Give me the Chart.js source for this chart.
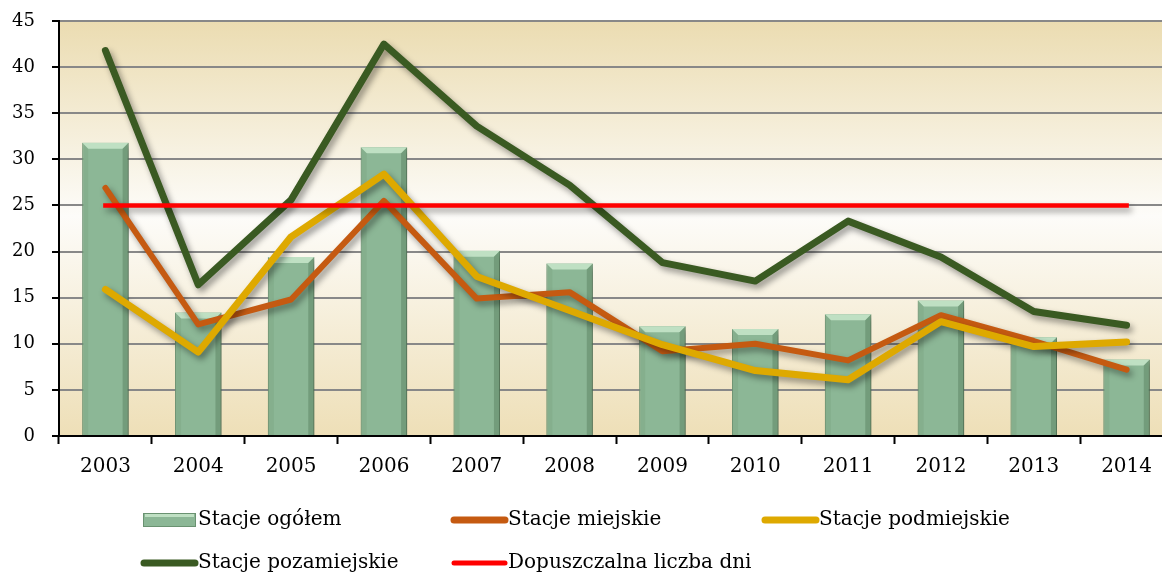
<!DOCTYPE html>
<html>
<head>
<meta charset="utf-8">
<script src="https://cdn.jsdelivr.net/npm/chart.js@4/dist/chart.umd.min.js"></script>
<style>
body { margin: 0; background: #fff; overflow: hidden; }
</style>
</head>
<body>
<canvas id="chart" width="1174" height="575"></canvas>
<script>
// dane
var years = ['2003','2004','2005','2006','2007','2008','2009','2010','2011','2012','2013','2014']
var ogolem = [31.8, 13.4, 19.4, 31.3, 20.1, 18.7, 11.9, 11.6, 13.2, 14.7, 10.7, 8.3]
var miejskie = [26.9, 12.1, 14.8, 25.5, 14.9, 15.6, 9.2, 10.0, 8.2, 13.1, 10.3, 7.2]
var podmiejskie = [15.9, 9.1, 21.6, 28.4, 17.3, 13.6, 9.9, 7.1, 6.1, 12.4, 9.7, 10.2]
var pozamiejskie = [41.8, 16.4, 25.6, 42.5, 33.6, 27.2, 18.8, 16.8, 23.3, 19.4, 13.5, 12.0]
var dopuszczalna = [25, 25, 25, 25, 25, 25, 25, 25, 25, 25, 25, 25]
var yTicks = [0, 5, 10, 15, 20, 25, 30, 35, 40, 45]

// tło obszaru wykresu
const tloPlugin = {
    id: 'tlo',
    beforeDraw(chart){
        const a = chart.chartArea
        const ctx = chart.ctx
        const g = ctx.createLinearGradient(0, a.top, 0, a.bottom)
        g.addColorStop(0, '#ebdcb1')
        g.addColorStop(0.47, '#fdfcf9')
        g.addColorStop(1, '#eedfb7')
        ctx.save()
        ctx.fillStyle = g
        ctx.fillRect(a.left, a.top, a.right - a.left, a.bottom - a.top)
        ctx.restore()
    }
}

// cienie + fazowanie słupków
const cienPlugin = {
    id: 'cien',
    beforeDatasetDraw(chart, args){
        const ctx = chart.ctx
        ctx.save()
        ctx.shadowColor = 'rgba(0,0,0,0.4)'
        ctx.shadowBlur = 6
        ctx.shadowOffsetX = 3
        ctx.shadowOffsetY = 4
    },
    afterDatasetDraw(chart, args){
        const ctx = chart.ctx
        ctx.restore()
        if(args.meta.type != 'bar') return
        args.meta.data.forEach(function(bar){
            const w = bar.width, l = bar.x - w / 2, r = bar.x + w / 2, t = bar.y, b = bar.base
            const s = 6
            ctx.save()
            ctx.fillStyle = '#bfe0c3'
            ctx.beginPath()
            ctx.moveTo(l, t); ctx.lineTo(r, t); ctx.lineTo(r - s, t + s); ctx.lineTo(l + s, t + s)
            ctx.closePath(); ctx.fill()
            ctx.fillStyle = 'rgba(90,130,95,0.5)'
            ctx.beginPath()
            ctx.moveTo(r, t); ctx.lineTo(r, b); ctx.lineTo(r - s, b); ctx.lineTo(r - s, t + s)
            ctx.closePath(); ctx.fill()
            ctx.fillStyle = 'rgba(120,160,125,0.35)'
            ctx.beginPath()
            ctx.moveTo(l, t); ctx.lineTo(l, b); ctx.lineTo(l + s, b); ctx.lineTo(l + s, t + s)
            ctx.closePath(); ctx.fill()
            ctx.restore()
        })
    }
}

// legenda w układzie kolumn
const legendaPlugin = {
    id: 'legenda',
    afterDraw(chart){
        const ctx = chart.ctx
        const cols = [141, 451, 762]
        const rows = [520, 563]
        ctx.save()
        chart.data.datasets.forEach(function(ds, i){
            const x = cols[i % 3], y = rows[Math.floor(i / 3)]
            if(ds.type == 'bar'){
                ctx.fillStyle = ds.backgroundColor
                ctx.fillRect(x + 2, y - 7, 53, 14)
                ctx.fillStyle = '#bfe0c3'
                ctx.fillRect(x + 4, y - 7, 49, 4)
                ctx.strokeStyle = ds.borderColor
                ctx.lineWidth = 1
                ctx.strokeRect(x + 2.5, y - 6.5, 52, 13)
            }
            else{
                ctx.strokeStyle = ds.borderColor
                ctx.lineWidth = ds.label == 'Dopuszczalna liczba dni' ? 5 : 7
                ctx.lineCap = 'round'
                ctx.beginPath()
                ctx.moveTo(x + 3, y); ctx.lineTo(x + 54, y)
                ctx.stroke()
            }
            ctx.fillStyle = '#000'
            ctx.font = '20px "DejaVu Serif"'
            ctx.textBaseline = 'middle'
            ctx.fillText(ds.label, x + 57, y)
        })
        ctx.restore()
    }
}

const ctx = document.getElementById('chart').getContext('2d')
const chart = new Chart(ctx, {
    data: {
        labels: years,
        datasets: [{
            type: 'bar',
            label: 'Stacje ogółem',
            data: ogolem,
            backgroundColor: '#8cb796',
            borderColor: '#6a9271',
            borderWidth: 1,
            barPercentage: 0.5,
            categoryPercentage: 1,
            order: 5
        }, {
            type: 'line',
            label: 'Stacje miejskie',
            data: miejskie,
            borderColor: '#c55a11',
            backgroundColor: '#c55a11',
            borderWidth: 6,
            pointRadius: 0,
            tension: 0,
            borderCapStyle: 'round',
            borderJoinStyle: 'round',
            order: 4
        }, {
            type: 'line',
            label: 'Stacje podmiejskie',
            data: podmiejskie,
            borderColor: '#dea900',
            backgroundColor: '#dea900',
            borderWidth: 7,
            pointRadius: 0,
            tension: 0,
            borderCapStyle: 'round',
            borderJoinStyle: 'round',
            order: 3
        }, {
            type: 'line',
            label: 'Stacje pozamiejskie',
            data: pozamiejskie,
            borderColor: '#3a5a22',
            backgroundColor: '#3a5a22',
            borderWidth: 7,
            pointRadius: 0,
            tension: 0,
            borderCapStyle: 'round',
            borderJoinStyle: 'round',
            order: 2
        }, {
            type: 'line',
            label: 'Dopuszczalna liczba dni',
            data: dopuszczalna,
            borderColor: '#ff0000',
            backgroundColor: '#ff0000',
            borderWidth: 4.5,
            pointRadius: 0,
            tension: 0,
            borderCapStyle: 'square',
            order: 1
        }]
    },
    options: {
        responsive: false,
        animation: false,
        layout: {
            padding: { top: 21, right: 1, left: 0, bottom: 0 }
        },
        scales: {
            x: {
                offset: true,
                grid: {
                    offset: true,
                    drawOnChartArea: false,
                    drawTicks: true,
                    tickLength: 8,
                    tickColor: '#000',
                    tickWidth: 2
                },
                border: { color: '#000', width: 2 },
                ticks: {
                    padding: 11,
                    color: '#000',
                    font: { family: 'DejaVu Serif', size: 20 },
                    maxRotation: 0
                },
                afterFit: function(scale){ scale.height = 139 }
            },
            y: {
                min: 0,
                max: 45,
                afterBuildTicks: function(scale){
                    scale.ticks = yTicks.map(function(v){ return { value: v } })
                },
                grid: {
                    color: '#888888',
                    lineWidth: 2,
                    drawTicks: true,
                    tickLength: 7,
                    tickColor: '#000',
                    tickWidth: 2
                },
                border: { color: '#000', width: 2 },
                ticks: {
                    padding: 17,
                    color: '#000',
                    font: { family: 'DejaVu Serif', size: 18 }
                },
                afterFit: function(scale){
                    scale.width = 59
                    scale.paddingTop = 10
                    scale.paddingBottom = 10
                }
            }
        },
        plugins: {
            legend: { display: false },
            tooltip: { enabled: false }
        }
    },
    plugins: [tloPlugin, cienPlugin, legendaPlugin]
})
</script>
</body>
</html>
